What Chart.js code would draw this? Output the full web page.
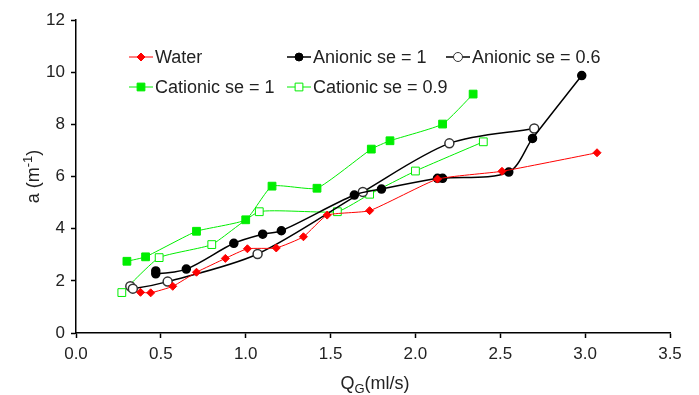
<!DOCTYPE html>
<html>
<head>
<meta charset="utf-8">
<script src="https://cdn.jsdelivr.net/npm/chart.js@4.4.1/dist/chart.umd.min.js"></script>
<style>
  html, body { margin: 0; padding: 0; background: #fff; }
  #wrap { width: 699px; height: 395px; }
</style>
</head>
<body>
<div id="wrap"><canvas id="chart" width="699" height="395"></canvas></div>
<script>
// series
const waterX = [0.38, 0.44, 0.57, 0.71, 0.88, 1.01, 1.18, 1.34, 1.48, 1.73, 2.13, 2.51, 3.07];
const waterY = [1.56, 1.54, 1.79, 2.33, 2.86, 3.23, 3.26, 3.69, 4.52, 4.69, 5.90, 6.20, 6.91];

const anion1X = [0.47, 0.47, 0.65, 0.93, 1.10, 1.21, 1.64, 1.80, 2.13, 2.16, 2.55, 2.69, 2.98];
const anion1Y = [2.38, 2.27, 2.45, 3.44, 3.79, 3.92, 5.29, 5.52, 5.93, 5.93, 6.17, 7.46, 9.87];

const anion06X = [0.32, 0.335, 0.54, 1.07, 1.69, 2.20, 2.70];
const anion06Y = [1.79, 1.70, 1.97, 3.03, 5.41, 7.27, 7.84];

const cation1X = [0.30, 0.41, 0.71, 1.00, 1.155, 1.42, 1.74, 1.85, 2.16, 2.34];
const cation1Y = [2.75, 2.92, 3.90, 4.34, 5.63, 5.55, 7.05, 7.37, 8.01, 9.16];

const cation09X = [0.27, 0.49, 0.80, 1.08, 1.54, 1.73, 2.00, 2.40];
const cation09Y = [1.55, 2.89, 3.39, 4.65, 4.65, 5.32, 6.21, 7.33];

const seriesNames = ['Water', 'Anionic se = 1', 'Anionic se = 0.6', 'Cationic se = 1', 'Cationic se = 0.9'];

const xTicks = [0, 0.5, 1, 1.5, 2, 2.5, 3, 3.5];
const yTicks = [0, 2, 4, 6, 8, 10, 12];

const GREEN = '#00ee00';
const FONT = '"Liberation Sans", Arial, sans-serif';
const TEXT = '#222';

const pts = (xs, ys) => xs.map((x, i) => ({ x: x, y: ys[i] }));

// legend drawn inside the plot, two rows, three columns
const legendSlots = [[0, 0], [1, 0], [2, 0], [0, 1], [1, 1]];

function drawMarker(ctx, style, r, x, y, fill, stroke) {
  ctx.save();
  ctx.fillStyle = fill;
  ctx.strokeStyle = stroke;
  ctx.lineWidth = 1;
  ctx.beginPath();
  if (style === 'circle') {
    ctx.arc(x, y, r, 0, Math.PI * 2);
  } else if (style === 'rect') {
    const s = r * Math.SQRT1_2;
    ctx.rect(x - s, y - s, 2 * s, 2 * s);
  } else if (style === 'rectRot') {
    ctx.moveTo(x, y - r); ctx.lineTo(x + r, y); ctx.lineTo(x, y + r); ctx.lineTo(x - r, y); ctx.closePath();
  }
  ctx.fill();
  ctx.stroke();
  ctx.restore();
}

const legendPlugin = {
  id: 'insideLegend',
  afterDraw(chart) {
    const ctx = chart.ctx;
    const colX = [129, 287, 446];
    const rowY = [57, 87];
    chart.data.datasets.forEach((ds, i) => {
      const [c, r] = legendSlots[i];
      const x0 = colX[c], y = rowY[r];
      ctx.save();
      ctx.strokeStyle = ds.borderColor;
      ctx.lineWidth = ds.borderWidth;
      ctx.beginPath();
      ctx.moveTo(x0, y);
      ctx.lineTo(x0 + 24, y);
      ctx.stroke();
      drawMarker(ctx, ds.pointStyle, ds.pointRadius, x0 + 12, y, ds.pointBackgroundColor, ds.pointBorderColor);
      ctx.fillStyle = TEXT;
      ctx.font = '18px ' + FONT;
      ctx.textBaseline = 'middle';
      ctx.fillText(ds.label, x0 + 26, y + 1);
      ctx.restore();
    });
  }
};

// axis titles with sub/superscripts
const titlePlugin = {
  id: 'axisTitles',
  afterDraw(chart) {
    const ctx = chart.ctx;
    const area = chart.chartArea;
    ctx.save();
    ctx.fillStyle = TEXT;
    ctx.textBaseline = 'alphabetic';
    // x title: Q_G(ml/s)
    const big = '18px ' + FONT, small = '13px ' + FONT;
    ctx.font = big; const wQ = ctx.measureText('Q').width;
    ctx.font = small; const wG = ctx.measureText('G').width;
    ctx.font = big; const wR = ctx.measureText('(ml/s)').width;
    let x = (area.left + area.right) / 2 - (wQ + wG + wR) / 2 + 2;
    const yb = 389;
    ctx.font = big; ctx.fillText('Q', x, yb); x += wQ;
    ctx.font = small; ctx.fillText('G', x, yb + 4); x += wG;
    ctx.font = big; ctx.fillText('(ml/s)', x, yb);
    // y title: a (m^-1)
    ctx.translate(39, (area.top + area.bottom) / 2);
    ctx.rotate(-Math.PI / 2);
    ctx.font = big; const w1 = ctx.measureText('a (m').width;
    ctx.font = small; const w2 = ctx.measureText('-1').width;
    ctx.font = big; const w3 = ctx.measureText(')').width;
    let t = -(w1 + w2 + w3) / 2;
    ctx.font = big; ctx.fillText('a (m', t, 0); t += w1;
    ctx.font = small; ctx.fillText('-1', t, -7); t += w2;
    ctx.font = big; ctx.fillText(')', t, 0);
    ctx.restore();
  }
};

new Chart(document.getElementById('chart'), {
  type: 'line',
  data: {
    datasets: [
      { label: seriesNames[0], data: pts(waterX, waterY), borderColor: '#ff0000', borderWidth: 1,
        pointStyle: 'rectRot', pointRadius: 4, pointBackgroundColor: '#ff0000', pointBorderColor: '#ff0000', tension: 0.15 },
      { label: seriesNames[1], data: pts(anion1X, anion1Y), borderColor: '#000', borderWidth: 1.5,
        pointStyle: 'circle', pointRadius: 4, pointBackgroundColor: '#000', pointBorderColor: '#000', tension: 0.3 },
      { label: seriesNames[2], data: pts(anion06X, anion06Y), borderColor: '#000', borderWidth: 1.5,
        pointStyle: 'circle', pointRadius: 4.5, pointBackgroundColor: '#fff', pointBorderColor: '#333', tension: 0.3 },
      { label: seriesNames[3], data: pts(cation1X, cation1Y), borderColor: GREEN, borderWidth: 1,
        pointStyle: 'rect', pointRadius: 5.5, pointBackgroundColor: GREEN, pointBorderColor: GREEN, tension: 0.15 },
      { label: seriesNames[4], data: pts(cation09X, cation09Y), borderColor: GREEN, borderWidth: 1,
        pointStyle: 'rect', pointRadius: 5.5, pointBackgroundColor: '#fff', pointBorderColor: GREEN, tension: 0.15 }
    ]
  },
  options: {
    responsive: false,
    animation: false,
    layout: { padding: { top: 20, right: 29, left: 0, bottom: 0 } },
    plugins: { legend: { display: false }, tooltip: { enabled: false } },
    elements: { point: { borderWidth: 1 } },
    scales: {
      x: {
        type: 'linear', min: 0, max: 3.5,
        afterFit: (s) => { s.height = 62; },
        afterBuildTicks: (s) => { s.ticks = xTicks.map(v => ({ value: v })); },
        ticks: { color: TEXT, font: { size: 17, family: FONT }, padding: 6, maxRotation: 0,
          callback: (v) => v.toFixed(1) },
        grid: { display: true, drawOnChartArea: false, drawTicks: true, tickLength: 5, color: '#000', tickWidth: 1.5 },
        border: { display: true, color: '#000', width: 1.5 }
      },
      y: {
        type: 'linear', min: 0, max: 12,
        afterFit: (s) => { s.width = 76; },
        afterBuildTicks: (s) => { s.ticks = yTicks.map(v => ({ value: v })); },
        ticks: { color: TEXT, font: { size: 17, family: FONT }, padding: 6 },
        grid: { display: true, drawOnChartArea: false, drawTicks: true, tickLength: 5, color: '#000', tickWidth: 1.5 },
        border: { display: true, color: '#000', width: 1.5 }
      }
    }
  },
  plugins: [legendPlugin, titlePlugin]
});
</script>
</body>
</html>
